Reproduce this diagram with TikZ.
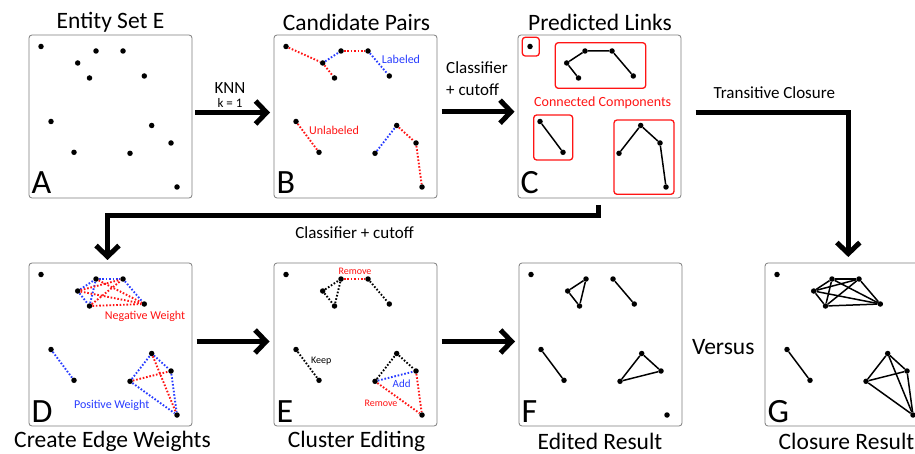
\documentclass[tikz,border=0pt]{standalone}
\usepackage{fontspec}
\setmainfont{Carlito}
\usetikzlibrary{arrows.meta}
\definecolor{rd}{RGB}{255,20,20}
\definecolor{bl}{RGB}{40,60,255}
\definecolor{framec}{RGB}{125,125,125}
\newcommand\ptlist{1/12/11.5,2/67/16,3/94/16,4/48.7/28,5/60.5/43,6/115.3/41,7/22/86.5,8/122.7/90.5,9/142/108,10/45/117.3,11/101/118.3,12/148/152}
\newcommand\mkpanel[3]{%
  \begin{scope}[shift={(#2,#3)}]
    \node[panel] (#1) at (81.5,81.5) {};
    \node[letter] (#1L) at (2.5,159) {#1};
    \foreach \i/\px/\py in \ptlist { \node[dot] (#1\i) at (\px,\py) {}; }
  \end{scope}}
\tikzset{
  x=1pt, y=-1pt,
  panel/.style={draw=framec, line width=0.8pt, rounded corners=3pt, minimum width=163pt, minimum height=163pt, inner sep=0pt, outer sep=0pt},
  dot/.style={circle, fill=black, inner sep=0pt, minimum size=5.5pt},
  letter/.style={font=\fontsize{34}{40}\selectfont, inner sep=0pt, anchor=base west},
  title/.style={font=\fontsize{23.5}{28}\selectfont, inner sep=0pt},
  lbl/.style={font=\fontsize{17}{20}\selectfont, inner sep=0pt},
  small/.style={font=\fontsize{#1}{#1}\selectfont, inner sep=0pt},
  rdd/.style={draw=rd, line width=1.9pt, dash pattern=on 1.6pt off 1.8pt},
  bld/.style={draw=bl, line width=1.9pt, dash pattern=on 1.6pt off 1.8pt},
  kd/.style={draw=black, line width=1.9pt, dash pattern=on 1.6pt off 1.8pt},
  sol/.style={draw=black, line width=1.5pt},
  comp/.style={draw=rd, line width=1.3pt, rounded corners=3pt},
  bigarrow/.style={line width=5pt, -{Straight Barb[length=11pt,width=23pt]}},
}
\begin{document}
\begin{tikzpicture}
\clip (0,0) rectangle (915,454);
\fill[white] (0,0) rectangle (915,454);

% panels
\mkpanel{A}{29}{35}
\mkpanel{B}{274}{35}
\mkpanel{C}{518}{35}
\mkpanel{D}{29}{263}
\mkpanel{E}{274}{263}
\mkpanel{F}{519}{263}
\mkpanel{G}{765}{263}

% titles
\node[title] (tA) at (110.5,22) {Entity Set E};
\node[title] (tB) at (356.5,22) {Candidate Pairs};
\node[title] (tC) at (600,22) {Predicted Links};
\node[title] (tD) at (112.5,441.5) {Create Edge Weights};
\node[title] (tE) at (356.5,441.5) {Cluster Editing};
\node[title] (tF) at (600,441.5) {Edited Result};
\node[title] (tG) at (846.5,441.5) {Closure Result};

% B: candidate pairs
\draw[rdd] (B1) -- (B4);
\draw[rdd] (B4) -- (B5);
\draw[bld] (B4) -- (B2);
\draw[rdd] (B2) -- (B3);
\draw[bld] (B3) -- (B6);
\draw[rdd] (B7) -- (B10);
\draw[bld] (B11) -- (B8);
\draw[rdd] (B8) -- (B9);
\draw[rdd] (B9) -- (B12);
\begin{scope}[shift={(274,35)}]
  \node[small=12, text=bl] (labB) at (127,24) {Labeled};
  \node[small=12, text=rd] (unlB) at (60,95) {Unlabeled};
\end{scope}

% C: predicted links
\draw[sol] (C4) -- (C5);
\draw[sol] (C4) -- (C2) -- (C3) -- (C6);
\draw[sol] (C7) -- (C10);
\draw[sol] (C11) -- (C8) -- (C9) -- (C12);
\begin{scope}[shift={(518,35)}]
  \draw[comp] (4.3,2.3) rectangle (21.3,21);
  \draw[comp] (37.3,7.7) rectangle (127.7,53.3);
  \draw[comp] (15.7,80) rectangle (54.7,125);
  \draw[comp] (96,85) rectangle (156,159.3);
  \node[small=14, text=rd] (ccC) at (84.7,67.3) {Connected Components};
\end{scope}

% D: edge weights
\draw[bld] (D4) -- (D2);
\draw[bld] (D2) -- (D3);
\draw[bld] (D3) -- (D6);
\draw[bld] (D4) -- (D5);
\draw[bld] (D5) -- (D2);
\draw[rdd] (D4) -- (D3);
\draw[rdd] (D4) -- (D6);
\draw[rdd] (D5) -- (D6);
\draw[rdd] (D5) -- (D3);
\draw[rdd] (D2) -- (D6);
\draw[bld] (D7) -- (D10);
\draw[bld] (D11) -- (D8);
\draw[bld] (D8) -- (D9);
\draw[bld] (D9) -- (D12);
\draw[bld] (D11) -- (D12);
\draw[rdd] (D11) -- (D9);
\draw[rdd] (D8) -- (D12);
\begin{scope}[shift={(29,263)}]
  \node[small=12, text=rd] (negD) at (116,53.3) {Negative Weight};
  \node[small=12, text=bl] (posD) at (82.7,142.7) {Positive Weight};
\end{scope}

% E: cluster editing
\draw[kd] (E4) -- (E2);
\draw[kd] (E4) -- (E5);
\draw[kd] (E5) -- (E2);
\draw[rdd] (E2) -- (E3);
\draw[kd] (E3) -- (E6);
\draw[kd] (E7) -- (E10);
\draw[kd] (E11) -- (E8);
\draw[kd] (E8) -- (E9);
\draw[bld] (E11) -- (E9);
\draw[rdd] (E9) -- (E12);
\draw[rdd] (E11) -- (E12);
\begin{scope}[shift={(274,263)}]
  \node[small=10, text=rd] (rm1E) at (81,8.3) {Remove};
  \node[small=10] (keepE) at (47.3,97.7) {Keep};
  \node[small=11, text=bl] (addE) at (127.7,121) {Add};
  \node[small=10, text=rd] (rm2E) at (107,140.7) {Remove};
\end{scope}

% F: edited result
\draw[sol] (F4) -- (F2) -- (F5) -- (F4);
\draw[sol] (F3) -- (F6);
\draw[sol] (F7) -- (F10);
\draw[sol] (F11) -- (F8) -- (F9) -- (F11);

% G: closure result
\foreach \a/\b in {2/3,2/4,2/5,2/6,3/4,3/5,3/6,4/5,4/6,5/6,11/8,11/9,11/12,8/9,8/12,9/12}
  \draw[sol] (G\a) -- (G\b);
\draw[sol] (G7) -- (G10);

% big arrows
\draw[bigarrow] ([shift={(3pt,4pt)}]A.east) -- ([shift={(-4pt,4pt)}]B.west);
\draw[bigarrow] ([shift={(4.5pt,4.8pt)}]B.east) -- ([shift={(-3.5pt,4.8pt)}]C.west);
\draw[bigarrow] ([shift={(4.5pt,3pt)}]D.east) -- ([shift={(-4.5pt,3pt)}]E.west);
\draw[bigarrow] ([shift={(4.5pt,3pt)}]E.east) -- ([shift={(-4pt,3pt)}]F.west);
\draw[bigarrow] ([shift={(14.7pt,4pt)}]C.east) -| ([shift={(1.8pt,6pt)}]G.north);
\draw[bigarrow] ([shift={(-1pt,-7pt)}]C.south) -- ++(0,10.7) -| ([shift={(-3pt,3pt)}]D.north);

% arrow labels
\node[lbl] (knn) at (230,88.3) {KNN};
\node[small=13] (k1) at (230,103.3) {k = 1};
\node[lbl, anchor=west] (cl1) at (446,67.7) {Classifier};
\node[lbl, anchor=west] (cl2) at (446,89.3) {+ cutoff};
\node[lbl] (tc) at (774.3,92.7) {Transitive Closure};
\node[lbl] (clc) at (354.5,232.2) {Classifier + cutoff};
\node[title] (vs) at (723.3,346.7) {Versus};
\end{tikzpicture}
\end{document}
